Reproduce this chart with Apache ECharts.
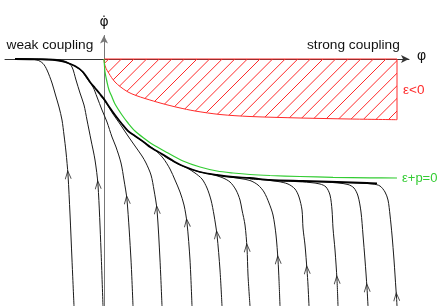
<!DOCTYPE html>
<html><head><meta charset="utf-8">
<script src="https://cdn.jsdelivr.net/npm/echarts@6/dist/echarts.min.js"></script>
<style>html,body{margin:0;padding:0;background:#fff}#c{width:445px;height:306px}</style>
</head><body><div id="c"></div>
<script>
// ---- data (phi, phi-dot) ----
const redBoundary = [[0,0],[0.05,-0.45],[0.15,-0.8],[0.3,-1.12],[0.5,-1.45],[0.75,-1.85],[1.1,-2.3],[1.6,-2.75],[2.4,-3.3],[3.2,-3.65],[4.1,-3.95],[5.8,-4.45],[7.4,-4.85],[9.1,-5.2],[11.6,-5.55],[14.6,-5.75],[19.6,-5.9],[24.6,-6.0],[29.3,-6.07]];
const greenCurve = [[0,0],[0.05,-0.7],[0.1,-1.3],[0.3,-2.3],[0.5,-3.1],[0.8,-3.8],[1.1,-4.5],[1.8,-5.6],[2.4,-6.4],[3.1,-7.2],[4.1,-8.0],[4.8,-8.5],[6.3,-9.35],[7.9,-10.2],[9.6,-10.8],[11.3,-11.2],[12.9,-11.4],[14.6,-11.55],[16.6,-11.65],[19.6,-11.75],[22.9,-11.83],[26.6,-11.88],[29.3,-11.9]];
const separatrix = [[-8.9,0],[-6.4,-0.03],[-4.9,-0.1],[-3.9,-0.3],[-2.9,-0.7],[-2.1,-1.3],[-1.4,-2.3],[-0.9,-2.9],[-0.4,-3.5],[0,-4.0],[0.6,-4.9],[1.1,-5.6],[1.8,-6.5],[2.4,-7.2],[3.1,-7.7],[4.1,-8.4],[4.6,-8.8],[5.8,-9.5],[7.1,-10.3],[7.9,-10.7],[9.6,-11.3],[11.3,-11.6],[12.9,-11.8],[14.6,-11.9],[16.6,-12.1],[19.9,-12.2],[23.3,-12.3],[26.3,-12.4],[27.3,-12.45]];
const traj1 = [[-3.0,-24.7],[-3.2,-20.1],[-3.4,-15.5],[-3.6,-11.6],[-3.8,-9.3],[-4.0,-7.6],[-4.2,-6.1],[-4.5,-4.8],[-4.85,-3.6],[-5.2,-2.4],[-5.7,-1.1],[-6.1,-0.45],[-6.7,-0.1],[-7.9,0],[-8.9,0]];
const traj2 = [[-0.1,-24.7],[-0.3,-19.1],[-0.6,-12.6],[-0.9,-10.1],[-1.3,-8.1],[-1.7,-6.1],[-2.0,-4.6],[-2.4,-3.4],[-2.8,-2.1],[-3.2,-0.8],[-3.7,-0.3],[-4.7,-0.05],[-6.4,0],[-8.9,0]];
const traj3 = [[2.9,-24.7],[2.7,-20.1],[2.3,-14.1],[2.0,-12.1],[1.7,-10.4],[1.2,-8.8],[0.8,-7.8],[0.3,-6.3],[-0.2,-5.1],[-0.7,-3.8],[-1.1,-2.8],[-1.7,-1.95],[-2.35,-1.1],[-3.15,-0.6],[-4.1,-0.25],[-5.1,-0.08],[-6.6,-0.01],[-8.9,0]];
const traj4 = [[5.8,-24.7],[5.6,-20.1],[5.3,-15.1],[5.0,-13.1],[4.7,-11.6],[4.2,-10.4],[3.8,-9.7],[3.1,-8.7],[2.4,-7.7],[1.6,-6.5],[0.9,-5.5],[0.4,-4.7],[0,-4.1],[-0.4,-3.6]];
const traj5 = [[8.8,-24.7],[8.6,-20.1],[8.3,-16.4],[8.0,-14.6],[7.6,-13.3],[7.1,-12.1],[6.6,-11.0],[5.9,-9.9],[5.1,-9.1],[4.1,-8.4],[3.1,-7.7],[2.4,-7.2],[1.8,-6.5]];
const traj6 = [[11.8,-24.7],[11.6,-21.1],[11.3,-17.6],[11.0,-15.6],[10.7,-14.1],[10.3,-12.9],[9.8,-12.0],[9.1,-11.4],[8.3,-10.9],[7.4,-10.5],[6.3,-9.9],[5.6,-9.4]];
const traj7 = [[14.6,-24.7],[14.4,-21.6],[14.3,-18.9],[14.1,-16.6],[13.8,-15.1],[13.6,-14.1],[13.2,-13.1],[12.6,-12.3],[11.8,-11.85],[10.8,-11.55],[9.6,-11.3],[8.6,-11.0]];
const traj8 = [[17.6,-24.7],[17.5,-22.1],[17.4,-20.1],[17.2,-17.6],[16.9,-15.6],[16.5,-14.4],[16.0,-13.3],[15.4,-12.6],[14.6,-12.15],[13.6,-11.95],[12.6,-11.8],[11.6,-11.65]];
const traj9 = [[20.5,-24.7],[20.4,-22.6],[20.3,-21.1],[20.1,-18.6],[19.9,-16.9],[19.8,-15.1],[19.5,-13.8],[19.1,-13.0],[18.4,-12.5],[17.4,-12.25],[16.1,-12.1],[14.6,-12.0]];
const traj10 = [[23.4,-24.7],[23.3,-22.1],[23.1,-19.1],[22.9,-16.9],[22.8,-15.1],[22.6,-13.6],[22.2,-12.8],[21.6,-12.5],[20.6,-12.35],[19.1,-12.25],[17.6,-12.2]];
const traj11 = [[26.4,-24.7],[26.3,-22.9],[26.1,-20.1],[25.9,-17.6],[25.7,-15.3],[25.4,-13.7],[25.0,-12.9],[24.4,-12.55],[23.4,-12.4],[22.1,-12.3],[20.6,-12.25]];
const traj12 = [[29.3,-24.7],[29.25,-23.8],[29.2,-23.1],[29.0,-20.1],[28.8,-17.6],[28.6,-15.6],[28.4,-14.1],[28.1,-13.3],[27.6,-12.7],[26.9,-12.5],[25.8,-12.42],[24.1,-12.35],[22.6,-12.3]];
const trajectories = [traj1,traj2,traj3,traj4,traj5,traj6,traj7,traj8,traj9,traj10,traj11,traj12];
const arrowIndex = [3,2,2,2,2,2,2,2,2,1,1,1];
const labels = {weak:'weak coupling', strong:'strong coupling', negEnergy:'ε<0', nullEnergy:'ε+p=0', x:'φ', y:'φ̇'};

// ---- chart ----
const chart = echarts.init(document.getElementById('c'), null, {renderer:'canvas'});
const FONT = '"Liberation Sans", Arial, sans-serif';
const RED = '#ff2a2a', GREEN = '#33cc33', INK = '#1a1a1a';

const last = redBoundary[redBoundary.length - 1];
const redPolygon = redBoundary.concat([[last[0], 0]]);
const redEdges = [[redBoundary[0][0], 0], [last[0], 0], last];

const arrowData = trajectories.map((t, i) => {
  const k = arrowIndex[i];
  const p = t[Math.max(k - 1, 0)], n = t[Math.min(k + 1, t.length - 1)];
  const ang = Math.atan2(-(n[0] - p[0]), (n[1] - p[1])) * 180 / Math.PI;
  return {value: t[k], symbolRotate: ang};
});

const series = [];
series.push({
  type: 'custom', coordinateSystem: 'cartesian2d', data: [[0, 0]], silent: true, z: 1,
  renderItem: function (params, api) {
    const pts = redPolygon.map(p => api.coord(p));
    const xs = pts.map(p => p[0]), ys = pts.map(p => p[1]);
    const x0 = Math.min.apply(null, xs), x1 = Math.max.apply(null, xs);
    const y0 = Math.min.apply(null, ys), y1 = Math.max.apply(null, ys);
    const step = 12.6, phase = 4;
    const children = [];
    for (let c = Math.floor((x0 + y0 - phase) / step) * step + phase; c <= x1 + y1 + step; c += step) {
      children.push({type: 'line', shape: {x1: c - y0, y1: y0, x2: c - y1, y2: y1},
        style: {stroke: RED, fill: 'none', lineWidth: 1}});
    }
    return {type: 'group', clipPath: {type: 'polygon', shape: {points: pts}}, children: children};
  }
});
series.push({type:'line', data: redEdges, symbol:'none', silent:true, z:3,
  lineStyle:{color:RED, width:1}});
series.push({type:'line', data: redBoundary, symbol:'none', smooth:0.3, silent:true, z:3,
  lineStyle:{color:RED, width:1}});
series.push({type:'line', data: greenCurve, symbol:'none', smooth:0.3, silent:true, z:3,
  lineStyle:{color:GREEN, width:1.2},
  endLabel:{show:true, formatter: labels.nullEnergy, color:GREEN, fontSize:13, fontFamily:FONT, distance:5}});
trajectories.forEach(t => series.push({type:'line', data:t, symbol:'none', smooth:0.3, silent:true, z:4,
  lineStyle:{color:INK, width:1}}));
series.push({type:'line', data: separatrix, symbol:'none', smooth:0.3, silent:true, z:5,
  lineStyle:{color:'#000', width:1.8}});
series.push({type:'scatter', data: arrowData, silent:true, z:6,
  symbol:'path://M0,9 L4,0 L8,9', symbolSize:[6,8],
  itemStyle:{color:'rgba(0,0,0,0)', borderColor:INK, borderWidth:1}});

chart.setOption({
  animation: false,
  grid: {left: 5, right: 36, top: 35.5, bottom: 0, outerBoundsMode: 'none'},
  xAxis: {type:'value', min:-9.9, max:30.5,
    axisLine:{show:true, onZero:true, symbol:['none','arrow'], symbolSize:[6,8], lineStyle:{color:'#333', width:1}},
    axisTick:{show:false}, axisLabel:{show:false}, splitLine:{show:false}},
  yAxis: {type:'value', min:-24.7, max:2.35,
    axisLine:{show:true, onZero:true, symbol:['none','arrow'], symbolSize:[6,8], lineStyle:{color:'#777', width:1}},
    axisTick:{show:false}, axisLabel:{show:false}, splitLine:{show:false}},
  graphic: [
    {type:'text', x:6.5, y:45.5, silent:true, style:{text:labels.weak, font:'13.7px '+FONT, fill:'#111', verticalAlign:'middle'}},
    {type:'text', x:307, y:45.5, silent:true, style:{text:labels.strong, font:'13.7px '+FONT, fill:'#111', verticalAlign:'middle'}},
    {type:'text', x:403, y:90.5, silent:true, style:{text:labels.negEnergy, font:'13.5px '+FONT, fill:RED, verticalAlign:'middle'}},
    {type:'text', x:417, y:56, silent:true, style:{text:labels.x, font:'14px '+FONT, fill:'#111', verticalAlign:'middle'}},
    {type:'text', x:104, y:22.5, silent:true, style:{text:labels.y, font:'14px "DejaVu Sans", sans-serif', fill:'#111', align:'center', verticalAlign:'middle'}}
  ],
  series: series
});
</script></body></html>
